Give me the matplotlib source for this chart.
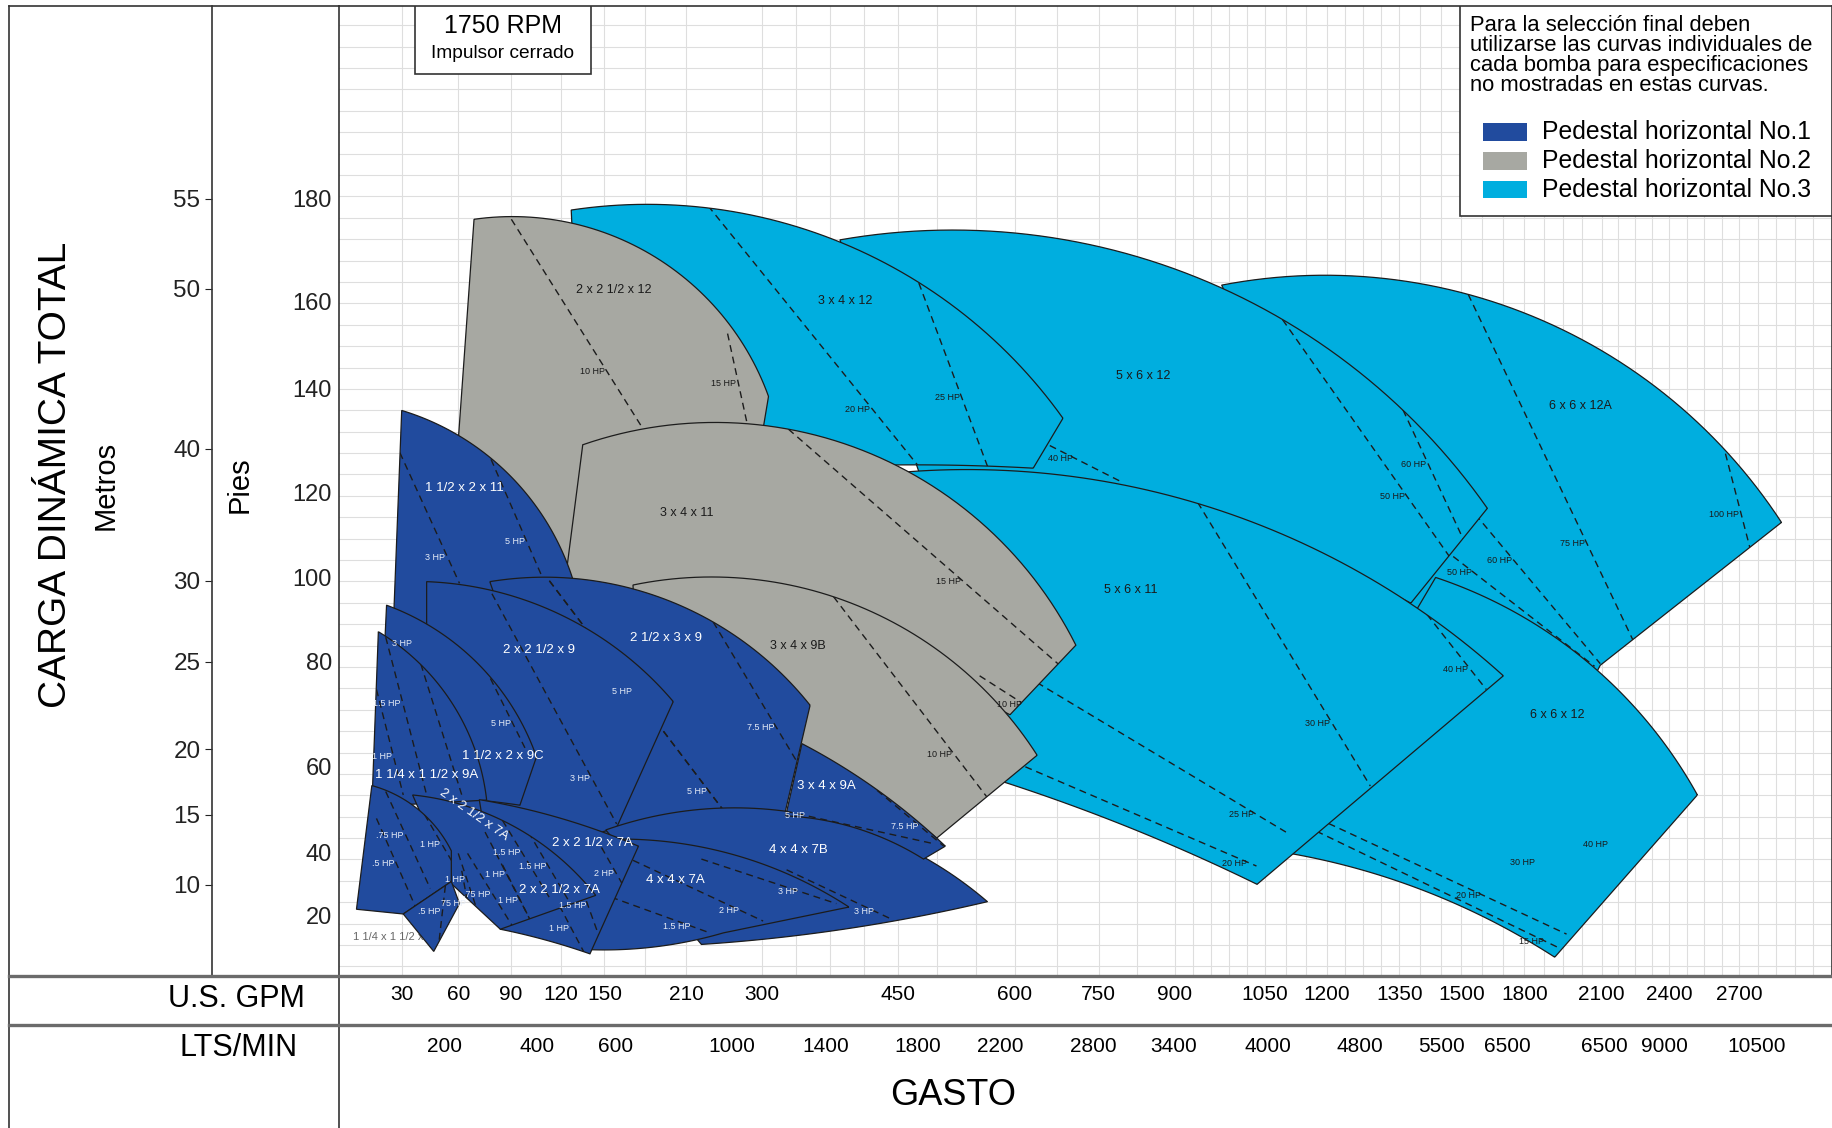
import numpy as np
import matplotlib.pyplot as plt
import matplotlib.transforms as mtransforms
from matplotlib.patches import Polygon, Rectangle
from matplotlib.lines import Line2D

SANS = ['Liberation Sans', 'DejaVu Sans']
NARROW = ['Liberation Sans Narrow', 'Liberation Sans', 'DejaVu Sans']
plt.rcParams['font.family'] = SANS

# the printed rulers are not linear: value -> distance along the axis
gpm_ruler = [0, 30, 60, 90, 120, 150, 210, 300, 450, 600, 750, 900, 1050, 1200,
             1350, 1500, 1800, 2100, 2400, 2700, 3100]
gpm_ruler_pos = [0, 54, 102, 147, 190, 227, 297, 362, 478, 578, 650, 715, 792, 845,
                 907, 960, 1014, 1080, 1138, 1198, 1277]
ft_ruler = [0, 20, 40, 60, 80, 100, 120, 140, 160, 180, 217]
ft_ruler_pos = [0, 52, 106, 179, 269, 341, 414, 503, 577, 665, 830]
m_ruler = [3.5, 10, 15, 20, 25, 30, 40, 50, 55, 65.7]
m_ruler_pos = [0, 78, 138, 194, 269, 338, 451, 588, 665, 830]

gpm_ticks = [30, 60, 90, 120, 150, 210, 300, 450, 600, 750, 900, 1050, 1200, 1350,
             1500, 1800, 2100, 2400, 2700]
lts_marks = [200, 400, 600, 1000, 1400, 1800, 2200, 2800, 3400, 4000, 4800, 5500,
             6500, 8000, 9000, 10500]
lts_text = ['200', '400', '600', '1000', '1400', '1800', '2200', '2800', '3400', '4000',
            '4800', '5500', '6500', '6500', '9000', '10500']
ft_ticks = [20, 40, 60, 80, 100, 120, 140, 160, 180]
m_ticks = [10, 15, 20, 25, 30, 40, 50, 55]

fill = {1: '#214b9e', 2: '#a7a8a2', 3: '#00aedf'}
legend_text = ['Pedestal horizontal No.1', 'Pedestal horizontal No.2', 'Pedestal horizontal No.3']
note_lines = ['Para la selección final deben', 'utilizarse las curvas individuales de',
              'cada bomba para especificaciones', 'no mostradas en estas curvas.']

# pump coverage areas (GPM, ft): top curve, right edge, bottom curve
pump_group = [3, 3, 3, 3, 3, 2, 2, 2, 1, 1, 1, 1, 1, 1, 1, 1, 1, 1, 1, 1]
pump_top = [
    [(978, 163.2), (1533, 161.4), (2882, 112.9)],   # 6 x 6 x 12A
    [(386, 172.0), (1092, 155.9), (1624, 116.2)],   # 5 x 6 x 12
    [(127, 177.8), (475, 163.9), (686, 134.2)],     # 3 x 4 x 12
    [(1438, 100.0), (2082, 78.4), (2520, 53.4)],    # 6 x 6 x 12
    [(462, 123.9), (927, 117.8), (1700, 77.3)],     # 5 x 6 x 11
    [(69, 176.0), (187, 168.7), (307, 138.4)],      # 2 x 2 1/2 x 12
    [(135, 129.1), (329, 132.1), (709, 83.9)],      # 3 x 4 x 11
    [(171, 98.2), (379, 95.4), (640, 62.2)],        # 3 x 4 x 9B
    [(29.8, 135.7), (78.7, 126.5), (128, 99.7)],    # 1 1/2 x 2 x 11
    [(78, 99.0), (242, 89.4), (353, 71.7)],         # 2 1/2 x 3 x 9
    [(43.1, 99.0), (101.4, 94.2), (200.5, 72.4)],   # 2 x 2 1/2 x 9
    [(22.6, 93.4), (78.7, 76.9), (105.3, 61.9)],    # 1 1/2 x 2 x 9C
    [(18.7, 87.1), (55.6, 72.7), (76.2, 52.2)],     # 1 1/4 x 1 1/2 x 9A
    [(151, 45.2), (401, 46.0), (565, 24.3)],        # 4 x 4 x 7B
    [(344, 64.4), (415, 56.4), (511, 41.4)],        # 3 x 4 x 9A
    [(151, 43.0), (275, 38.5), (396, 22.6)],        # 4 x 4 x 7A
    [(72, 52.3), (120, 47.9), (175, 41.4)],         # 2 x 2 1/2 x 7A
    [(35.6, 53.4), (85.3, 47.4), (144, 26.3)],      # 2 x 2 1/2 x 7A
    [(15.6, 55.6), (35, 51.2), (56.3, 40.3)],       # 1 1/4 x 1 1/2 x 7
    [(30.6, 20.4), (56.3, 30.7)],
]
pump_side = [
    [(2095, 79.3), (2064, 76.4)],
    [(1378, 93.9)],
    [(633, 124.6)],
    [(1918, 6.2)],
    [(1037, 29.8)],
    [(302, 133.2), (297, 128.1)],
    [(594, 69.9)],
    [(500, 43.3)],
    [(136, 85.8)],
    [(325, 49.0)],
    [(159, 45.8)],
    [(95.4, 51.0)],
    [],
    [],
    [(483, 37.8)],
    [(254, 14.2)],
    [(140, 7.3)],
    [(84, 15.4)],
    [(56.3, 30.7), (30.6, 20.4)],
    [(60.7, 23.7)],
]
pump_bottom = [
    [(2064, 76.4), (1722, 81.7), (1333, 87.2)],
    [(1378, 93.9), (888, 114.8), (483, 121.3)],
    [(633, 124.6), (349, 124.7), (136, 120.2)],
    [(1918, 6.2), (1466, 24.8), (1073, 40.3)],
    [(1037, 29.8), (769, 47.7), (543, 58.9)],
    [(297, 128.1), (136.2, 103.8), (56.3, 109.3)],
    [(594, 69.9), (362, 85.8), (122, 96.9)],
    [(500, 43.3), (362, 61.3), (174, 74.7)],
    [(136, 85.8), (25.6, 85.8)],
    [(325, 49.0), (228, 43.8), (136.2, 39.6)],
    [(159, 45.8), (99.1, 42.5), (43.1, 47.9)],
    [(95.4, 51.0), (52.5, 52.9), (18.3, 53.4)],
    [(76.2, 52.2), (15.6, 50.7)],
    [(565, 24.3), (414, 16.5), (228, 10.4)],
    [(483, 37.8), (401, 45.8), (326, 48.5)],
    [(254, 14.2), (205, 10.8), (133.8, 8.8)],
    [(140, 7.3), (113, 11.5), (84, 15.4)],
    [(84, 15.4), (56.3, 30.0)],
    [(30.6, 20.4), (8.3, 21.9)],
    [(60.7, 23.7), (46.9, 8.1)],
]

name_text = ['6 x 6 x 12A', '5 x 6 x 12', '3 x 4 x 12', '6 x 6 x 12', '5 x 6 x 11',
             '2 x 2 1/2 x 12', '3 x 4 x 11', '3 x 4 x 9B', '1 1/2 x 2 x 11', '2 1/2 x 3 x 9',
             '2 x 2 1/2 x 9', '1 1/2 x 2 x 9C', '1 1/4 x 1 1/2 x 9A', '4 x 4 x 7B',
             '3 x 4 x 9A', '4 x 4 x 7A', '2 x 2 1/2 x 7A', '2 x 2 1/2 x 7A',
             '2 x 2 1/2 x 7A', '1 1/4 x 1 1/2 x 7']
name_at = [(2018, 136.6), (838, 142.7), (392, 160.2), (1927, 69.8), (812, 96.9),
           (157, 162.3), (211, 115.1), (340, 83.6), (63.3, 120.7), (195, 85.6),
           (107, 82.8), (85.3, 62.0), (43.1, 58.1), (340, 40.5), (371, 55.6),
           (202, 31.1), (142, 42.2), (68.7, 48.8), (119, 28.1), (25.6, 12.7)]
name_rot = [0] * 17 + [-35, 0, 0]
name_bg = [3, 3, 3, 3, 3, 2, 2, 2, 1, 1, 1, 1, 1, 1, 1, 1, 1, 1, 1, 0]

# horsepower limits: (pump, start, end, text, label position along the line)
hp_lines = [
    (0, (2640, 127.4), (2746, 106.8), '100 HP', .64),
    (0, (1533, 161.4), (2240, 85.0), '75 HP', .72),
    (0, (1567, 114.8), (2095, 79.6), '60 HP', .31),
    (0, (1458, 106.6), (2073, 79.1), '50 HP', .20),
    (1, (625, 131.0), (794, 122.0), '40 HP', .50),
    (1, (1093, 155.8), (1475, 104.4), '50 HP', .74),
    (1, (1359, 135.8), (1511, 108.8), '60 HP', .42),
    (2, (236, 178.6), (484, 123.6), '20 HP', .76),
    (2, (477, 163.6), (566, 124.6), '25 HP', .62),
    (3, (1204, 46.7), (1964, 13.8), '20 HP', .65),
    (3, (1175, 44.9), (1941, 9.0), '15 HP', .94),
    (4, (938, 117.6), (1290, 55.5), '30 HP', .78),
    (4, (1417, 91.2), (1619, 74.7), '40 HP', .73),
    (4, (640, 76.0), (1101, 44.7), '25 HP', .88),
    (4, (619, 60.0), (1036, 35.6), '20 HP', .97),
    (5, (90.3, 176.0), (178, 132.3), '10 HP', .73),
    (5, (259, 152.6), (282, 133.3), '15 HP', .56),
    (6, (329, 132.1), (677, 79.6), '15 HP', .65),
    (6, (555, 77.3), (621, 71.6), '10 HP', .95),
    (7, (379, 95.4), (564, 53.0), '10 HP', .79),
    (8, (28.9, 127.6), (60.7, 98.6), '3 HP', .80),
    (8, (78.7, 126.3), (117, 92.5), '5 HP', .55),
    (9, (242, 89.4), (338, 61.1), '7.5 HP', .76),
    (9, (113, 99.2), (256, 49.3), '5 HP', .48),
    (9, (113, 99.2), (256, 49.3), '5 HP', .91),
    (10, (76, 98.6), (159, 46.6), '3 HP', .81),
    (11, (51.9, 98.6), (98.4, 63.6), '5 HP', .85),
    (12, (30.6, 92.8), (62, 53.4), '3 HP', .19),
    (12, (22.2, 85.8), (43.1, 53.4), '1.5 HP', .42),
    (12, (17.8, 74.7), (30.6, 53.4), '1 HP', .64),
    (13, (327, 34.4), (441, 19.0), '3 HP', .87),
    (14, (326, 49.6), (498, 41.9), '5 HP', .14),
    (14, (427, 54.5), (509, 41.4), '7.5 HP', .65),
    (15, (171, 37.4), (301, 18.1), '2 HP', .83),
    (15, (147, 27.0), (238, 14.2), '1.5 HP', .84),
    (15, (228, 37.8), (382, 23.7), '3 HP', .73),
    (16, (148, 41.1), (165, 28.5), '2 HP', .63),
    (16, (132, 31.5), (146, 13.5), '1.5 HP', .48),
    (16, (119, 23.0), (136, 7.7), '1 HP', .48),
    (17, (85.3, 47.4), (113, 25.6), '1.5 HP', .42),
    (17, (100.5, 44.7), (129.7, 21.1), '1.5 HP', .43),
    (17, (75.3, 44.7), (102.6, 17.3), '1 HP', .46),
    (17, (65.3, 39.6), (92.1, 15.4), '.75 HP', .54),
    (17, (85.3, 35.9), (102.6, 17.3), '1 HP', .60),
    (17, (60, 39.6), (73.3, 17.3), '1 HP', .37),
    (17, (62, 34.1), (68.7, 13.5), '75 HP', .51),
    (18, (22.2, 54.2), (45, 28.5), '.75 HP', .45),
    (18, (17.8, 47.9), (36.9, 23.0), '.5 HP', .52),
    (18, (38.8, 51.2), (56.3, 37.4), '1 HP', .71),
    (19, (53.1, 29.3), (49.4, 9.6), '.5 HP', .42),
]
hp_free_text = ['30 HP', '40 HP']
hp_free_at = [(1789, 36.7), (2077, 41.9)]


def fx(g):
    return np.interp(g, gpm_ruler, gpm_ruler_pos)


def ix(p):
    return np.interp(p, gpm_ruler_pos, gpm_ruler)


def fy(f):
    return np.interp(f, ft_ruler, ft_ruler_pos)


def iy(p):
    return np.interp(p, ft_ruler_pos, ft_ruler)


def fm(m):
    return np.interp(m, m_ruler, m_ruler_pos)


def im(p):
    return np.interp(p, m_ruler_pos, m_ruler)


def to_ruler(pts):
    pts = np.asarray(pts, float)
    return np.column_stack([fx(pts[:, 0]), fy(pts[:, 1])])


def to_data(r):
    return np.column_stack([ix(r[:, 0]), iy(r[:, 1])])


def seg(p, q, n=16):
    a, b = to_ruler([p, q])
    t = np.linspace(0, 1, n)[:, None]
    return to_data(a + (b - a) * t)


def arc(p, m, q, n=60):
    # circle through three points, measured on the printed ruler
    a, b, c = to_ruler([p, m, q])
    d = 2 * (a[0] * (b[1] - c[1]) + b[0] * (c[1] - a[1]) + c[0] * (a[1] - b[1]))
    if abs(d) < 1e-6:
        return np.vstack([seg(p, m), seg(m, q)])
    sa, sb, sc = a @ a, b @ b, c @ c
    ux = (sa * (b[1] - c[1]) + sb * (c[1] - a[1]) + sc * (a[1] - b[1])) / d
    uy = (sa * (c[0] - b[0]) + sb * (a[0] - c[0]) + sc * (b[0] - a[0])) / d
    r = np.hypot(a[0] - ux, a[1] - uy)
    t0, t1, t2 = (np.arctan2(v[1] - uy, v[0] - ux) for v in (a, b, c))
    span = (t2 - t0) % (2 * np.pi)
    if (t1 - t0) % (2 * np.pi) > span:
        span -= 2 * np.pi
    t = t0 + span * np.linspace(0, 1, n)
    return to_data(np.column_stack([ux + r * np.cos(t), uy + r * np.sin(t)]))


def curve(pts):
    return arc(*pts) if len(pts) == 3 else seg(*pts)


def outline(k):
    top, side, bottom = pump_top[k], pump_side[k], pump_bottom[k]
    parts = [curve(top)]
    prev = top[-1]
    for q in side:
        parts.append(seg(prev, q))
        prev = q
    parts.append(curve(bottom))
    parts.append(seg(bottom[-1], top[0]))
    return np.vstack(parts)


fig = plt.figure(figsize=(18.33, 11.28), dpi=100)
ax = fig.add_axes([0.18495, 0.13472, 0.81441, 0.8601])
ax.set_xscale('function', functions=(fx, ix))
ax.set_yscale('function', functions=(fy, iy))
ax.set_xlim(0, 3100)
ax.set_ylim(0, 217)

# background grid
xg = []
for a, b in zip(gpm_ruler_pos[:-1], gpm_ruler_pos[1:]):
    step = 45 if a < 310 else (31 if a < 712 else 16)
    n = max(1, round((b - a) / step))
    xg.extend(np.linspace(a, b, n + 1)[1:])
ax.set_xticks(ix(np.array(xg)), minor=True)
ax.set_xticks([])
ax.set_yticks(iy(np.arange(8.2, 830, 18.3)), minor=True)
ax.set_yticks(ft_ticks)
ax.set_yticklabels([str(v) for v in ft_ticks])
ax.tick_params(which='both', length=0)
ax.tick_params(axis='y', labelsize=17, pad=5, colors='#222')
ax.grid(which='minor', color='#dedede', lw=0.8)
ax.set_axisbelow(True)
for s in ax.spines.values():
    s.set_color('#333')
    s.set_linewidth(1.2)

# pump areas with their horsepower lines
for k in range(len(pump_top)):
    z = 2 + 0.1 * k
    poly = Polygon(outline(k), closed=True, facecolor=fill[pump_group[k]],
                   edgecolor='#1c1c1c', lw=0.9, zorder=z)
    ax.add_patch(poly)
    for pk, p, q, txt, t in hp_lines:
        if pk != k:
            continue
        xy = seg(p, q)
        ln, = ax.plot(xy[:, 0], xy[:, 1], color='#1c1c1c', lw=1.0,
                      ls=(0, (5, 3.5)), zorder=z + 0.05)
        ln.set_clip_path(poly)

for pk, p, q, txt, t in hp_lines:
    a, b = to_ruler([p, q])
    pt = to_data((a + (b - a) * t)[None, :])[0]
    col = '#e6ecf7' if pump_group[pk] == 1 else '#1a1a1a'
    ax.annotate(txt, pt, xytext=(-1.5, 0), textcoords='offset points', ha='right',
                va='center', fontsize=6.5, color=col, family=NARROW, zorder=20)
for txt, pt in zip(hp_free_text, hp_free_at):
    ax.text(pt[0], pt[1], txt, ha='center', va='center', fontsize=6.5,
            color='#1a1a1a', family=NARROW, zorder=20)

for txt, pt, rot, bg in zip(name_text, name_at, name_rot, name_bg):
    if bg == 0:
        ax.text(pt[0], pt[1], txt, ha='center', va='center', fontsize=8,
                color='#666', family=NARROW, zorder=2 + 0.1 * 18.5)
    elif bg == 1:
        ax.text(pt[0], pt[1], txt, ha='center', va='center', fontsize=9.5,
                color='white', rotation=rot, family=SANS, zorder=21)
    else:
        ax.text(pt[0], pt[1], txt, ha='center', va='center', fontsize=9,
                color='#1a1a1a', rotation=rot, family=NARROW, zorder=21)

# metres ruler
axm = fig.add_axes(ax.get_position(), facecolor='none')
axm.set_yscale('function', functions=(fm, im))
axm.set_ylim(m_ruler[0], m_ruler[-1])
axm.set_xticks([])
for s in ('top', 'right', 'bottom'):
    axm.spines[s].set_visible(False)
axm.spines['left'].set_position(('axes', -0.08536))
axm.spines['left'].set_color('#333')
axm.spines['left'].set_linewidth(1.2)
axm.set_yticks(m_ticks)
axm.set_yticklabels([str(v) for v in m_ticks])
axm.tick_params(axis='y', length=5, labelsize=17.5, pad=3, colors='#222')

# flow scales below the chart
trans = mtransforms.blended_transform_factory(ax.transData, fig.transFigure)
for g in gpm_ticks:
    ax.text(g, 0.1181, str(g), transform=trans, ha='center', va='center', fontsize=15)
for v, txt in zip(lts_marks, lts_text):
    ax.text(v / 3.785, 0.0725, txt, transform=trans, ha='center', va='center', fontsize=15)

fig.text(0.1291, 0.114, 'U.S. GPM', ha='center', va='center', fontsize=22)
fig.text(0.1301, 0.0705, 'LTS/MIN', ha='center', va='center', fontsize=22)
fig.text(0.5198, 0.029, 'GASTO', ha='center', va='center', fontsize=26)
fig.text(0.0306, 0.5793, 'CARGA DINÁMICA TOTAL', rotation=90, ha='center', va='center', fontsize=28)
fig.text(0.0574, 0.5699, 'Metros', rotation=90, ha='center', va='center', fontsize=21)
fig.text(0.1307, 0.5699, 'Pies', rotation=90, ha='center', va='center', fontsize=21)

# frame lines
def fline(xs, ys, lw=1.2, color='#333'):
    fig.add_artist(Line2D(xs, ys, transform=fig.transFigure, color=color, lw=lw))


fline([0.0051, 0.0051], [0, 0.99482])
fline([0.0051, 0.18495], [0.99482, 0.99482])
fline([0.18495, 0.18495], [0, 0.13472])
fline([0.0051, 1], [0.13472, 0.13472], lw=2.4, color='#6b6b6b')
fline([0.0051, 1], [0.0912, 0.0912], lw=2.4, color='#6b6b6b')

# speed box
ax.add_patch(Rectangle((0.0509, 0.9301), 0.1176, 0.0699, transform=ax.transAxes,
                       facecolor='white', edgecolor='#333', lw=1.2, zorder=30))
ax.text(0.1097, 0.9795, '1750 RPM', transform=ax.transAxes, ha='center', va='center',
        fontsize=18, zorder=31)
ax.text(0.1097, 0.9506, 'Impulsor cerrado', transform=ax.transAxes, ha='center',
        va='center', fontsize=13.8, zorder=31)

# note and legend
ax.add_patch(Rectangle((0.7508, 0.7831), 0.2492, 0.2169, transform=ax.transAxes,
                       facecolor='white', edgecolor='#333', lw=1.2, zorder=30))
for i, line in enumerate(note_lines):
    ax.text(0.7578, 0.9795 - 0.02047 * i, line, transform=ax.transAxes, ha='left',
            va='center', fontsize=15.8, zorder=31)
for i, (txt, grp) in enumerate(zip(legend_text, [1, 2, 3])):
    yc = 0.8699 - 0.0296 * i
    ax.add_patch(Rectangle((0.7665, yc - 0.009), 0.029, 0.018, transform=ax.transAxes,
                           facecolor=fill[grp], edgecolor='none', zorder=31))
    ax.text(0.8056, yc, txt, transform=ax.transAxes, ha='left', va='center',
            fontsize=17.8, zorder=31)

fig.savefig('out.png', dpi=100, facecolor='white')
